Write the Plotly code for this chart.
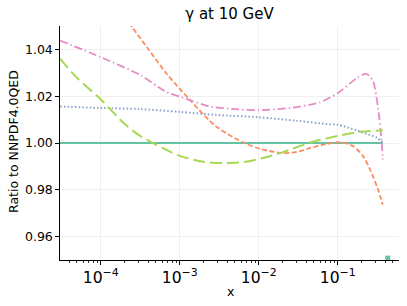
import plotly.graph_objects as go

# ---- data ----
teal_x = [3.05e-5, 0.372]
teal_y = [1.0, 1.0]

orange_x = [2.0e-4, 2.54e-4, 3.98e-4, 6.76e-4, 1.35e-3, 2.88e-3, 6.61e-3, 1.07e-2,
            2.04e-2, 3.16e-2, 4.47e-2, 7.08e-2, 0.107, 0.158, 0.209, 0.257, 0.324, 0.372]
orange_y = [1.0540, 1.0492, 1.0403, 1.0298, 1.0184, 1.0071, 1.0000, 0.9974,
            0.9957, 0.9963, 0.9979, 0.9995, 1.0003, 0.9986, 0.9944, 0.9886, 0.9801, 0.9737]

pink_x = [3.05e-5, 1.0e-4, 3.24e-4, 6.76e-4, 1.0e-3, 2.4e-3, 5.0e-3, 1.0e-2, 2.69e-2,
          5.89e-2, 0.1, 0.174, 0.222, 0.25, 0.283, 0.327, 0.361, 0.372]
pink_y = [1.0438, 1.0367, 1.0289, 1.0218, 1.0198, 1.0156, 1.0145, 1.0140, 1.0151,
          1.0173, 1.0213, 1.0277, 1.0295, 1.0288, 1.0262, 1.0142, 1.0000, 0.9929]

blue_x = [3.05e-5, 1.0e-4, 3.16e-4, 1.0e-3, 2.88e-3, 1.0e-2, 3.02e-2, 7.24e-2, 0.1,
          0.174, 0.251, 0.316, 0.372]
blue_y = [1.0156, 1.0150, 1.0145, 1.0133, 1.0120, 1.0110, 1.0095, 1.0081, 1.0078,
          1.0054, 1.0035, 1.0022, 1.0000]

green_x = [3.05e-5, 5.13e-5, 1.0e-4, 2.0e-4, 3.16e-4, 4.57e-4, 1.0e-3, 2.0e-3, 3.55e-3,
           6.31e-3, 1.07e-2, 2.0e-2, 4.47e-2, 0.1, 0.191, 0.372]
green_y = [1.0360, 1.0275, 1.0187, 1.0082, 1.0030, 1.0000, 0.9945, 0.9920, 0.9914,
           0.9918, 0.9934, 0.9960, 1.0002, 1.0030, 1.0048, 1.0054]

marker_x = [0.43]
marker_y = [0.9508]

y_ticks = [0.96, 0.98, 1.00, 1.02, 1.04]
y_ticklabels = ["0.96", "0.98", "1.00", "1.02", "1.04"]

FONT = "DejaVu Sans"
W, H = 407, 306
ML, MR, MT, MB = 60, 8, 26, 46

fig = go.Figure()
fig.add_trace(go.Scatter(x=teal_x, y=teal_y, mode="lines",
                         line=dict(color="#66c2a5", width=2.2)))
fig.add_trace(go.Scatter(x=orange_x, y=orange_y, mode="lines",
                         line=dict(color="#fc8d62", width=1.8, dash="5px,2.5px", shape="spline", smoothing=0.8)))
fig.add_trace(go.Scatter(x=pink_x, y=pink_y, mode="lines",
                         line=dict(color="#e78ac3", width=1.8, dash="8px,3px,1.5px,3px", shape="spline", smoothing=0.6)))
fig.add_trace(go.Scatter(x=blue_x, y=blue_y, mode="lines",
                         line=dict(color="#8da0cb", width=2, dash="1.5px,2.2px", shape="spline", smoothing=0.8)))
fig.add_trace(go.Scatter(x=green_x, y=green_y, mode="lines",
                         line=dict(color="#a6d854", width=2, dash="12px,5px", shape="spline", smoothing=0.8)))
fig.add_trace(go.Scatter(x=marker_x, y=marker_y, mode="markers",
                         marker=dict(color="#66c2a5", size=5, symbol="square")))

fig.update_layout(
    width=W, height=H,
    margin=dict(l=ML, r=MR, t=MT, b=MB, autoexpand=False),
    plot_bgcolor="white", paper_bgcolor="white",
    showlegend=False, hovermode=False,
    font=dict(family=FONT, size=12.5, color="black"),
    title=dict(text="γ at 10 GeV", font=dict(family=FONT, size=15, color="black"),
               x=0.5, xref="paper", xanchor="center", y=1 - 14 / H, yref="container", yanchor="middle"),
    annotations=[
        dict(text="Ratio to NNPDF4.0QED", xref="paper", yref="paper",
             x=(13 - ML) / (W - ML - MR), y=(H - MB - 141) / (H - MT - MB),
             xanchor="center", yanchor="middle", textangle=-90, showarrow=False,
             font=dict(family=FONT, size=12.5, color="black")),
        dict(text="x", xref="paper", yref="paper",
             x=(230 - ML) / (W - ML - MR), y=(H - MB - 291) / (H - MT - MB),
             xanchor="center", yanchor="middle", showarrow=False,
             font=dict(family=FONT, size=12.5, color="black")),
    ],
)
fig.update_xaxes(
    type="log", range=[-4.515, -0.224], dtick=1, exponentformat="power", automargin=False,
    showline=True, linecolor="black", linewidth=1.2, mirror=False,
    showgrid=True, gridcolor="#ebebeb", gridwidth=0.8, zeroline=False,
    ticks="outside", ticklen=3.5, tickwidth=1, tickcolor="black",
    minor=dict(ticks="outside", ticklen=2, tickwidth=0.8, tickcolor="black", showgrid=False),
    tickfont=dict(size=12.5),
)
fig.update_yaxes(
    range=[0.95, 1.05], tickvals=y_ticks, ticktext=y_ticklabels, automargin=False,
    showline=True, linecolor="black", linewidth=1.2, mirror=False,
    showgrid=True, gridcolor="#ebebeb", gridwidth=0.8, zeroline=False,
    ticks="outside", ticklen=3.5, tickwidth=1, tickcolor="black",
    tickfont=dict(size=12.5),
)

fig.write_html("out.html", config={"displayModeBar": False, "staticPlot": True},
               post_script="document.body.style.margin='0';")
